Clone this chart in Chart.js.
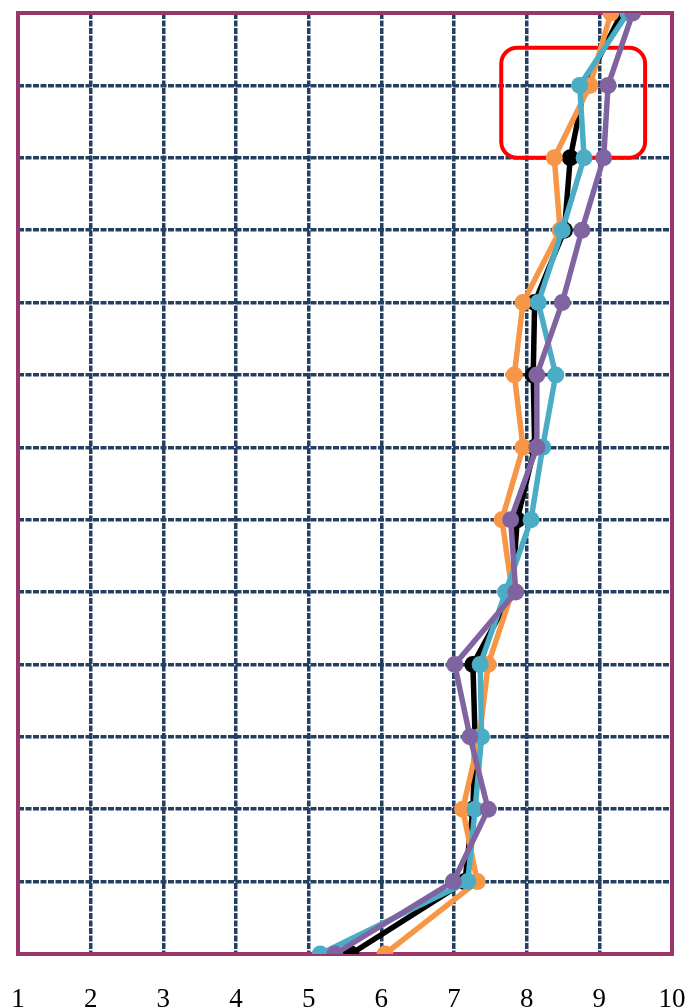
<!DOCTYPE html>
<html>
<head>
<meta charset="utf-8">
<script src="https://cdn.jsdelivr.net/npm/chart.js@4"></script>
<style>
  html, body { margin: 0; padding: 0; background: #fff; overflow: hidden; }
  canvas { display: block; }
</style>
</head>
<body>
<canvas id="myChart" width="691" height="1007"></canvas>
<script>
// depth levels (rows, top = 0)
const depths = [0, 1, 2, 3, 4, 5, 6, 7, 8, 9, 10, 11, 12, 13];
const xTicks = [1, 2, 3, 4, 5, 6, 7, 8, 9, 10];

const blackSeries  = [9.31, 8.80, 8.60, 8.52, 8.11, 8.09, 8.11, 7.87, 7.80, 7.26, 7.29, 7.26, 7.15, 5.58];
const orangeSeries = [9.16, 8.87, 8.38, 8.46, 7.95, 7.83, 7.95, 7.66, 7.80, 7.47, 7.35, 7.12, 7.32, 6.05];
const tealSeries   = [9.39, 8.73, 8.79, 8.49, 8.16, 8.40, 8.22, 8.06, 7.71, 7.36, 7.38, 7.29, 7.19, 5.16];
const purpleSeries = [9.46, 9.12, 9.06, 8.76, 8.49, 8.14, 8.14, 7.78, 7.85, 7.01, 7.22, 7.47, 6.99, 5.36];

// highlighted region (data units)
const boxX = [7.65, 9.63];
const boxY = [0.48, 2.0];

const toPoints = (vals) => vals.map((v, i) => ({ x: v, y: depths[i] }));

const makeSet = (vals, color, order) => ({
  data: toPoints(vals),
  borderColor: color,
  backgroundColor: color,
  borderWidth: 5.5,
  pointRadius: 8.5,
  pointHoverRadius: 8.5,
  pointBorderWidth: 0,
  showLine: true,
  order: order
});

// frame + red box, under the lines
const framePlugin = {
  id: 'frame',
  beforeDatasetsDraw(chart) {
    const { ctx, chartArea: a, scales } = chart;
    ctx.save();
    ctx.strokeStyle = '#9B3768';
    ctx.lineWidth = 4;
    ctx.strokeRect(a.left, a.top, a.right - a.left, a.bottom - a.top);

    const x1 = scales.x.getPixelForValue(boxX[0]);
    const x2 = scales.x.getPixelForValue(boxX[1]);
    const y1 = scales.y.getPixelForValue(boxY[0]);
    const y2 = scales.y.getPixelForValue(boxY[1]);
    ctx.strokeStyle = '#ff0000';
    ctx.lineWidth = 4;
    ctx.beginPath();
    ctx.roundRect(x1, y1, x2 - x1, y2 - y1, 16);
    ctx.stroke();
    ctx.restore();
  }
};

const ctx = document.getElementById('myChart');
new Chart(ctx, {
  type: 'scatter',
  data: {
    datasets: [
      makeSet(blackSeries, '#000000', 3),
      makeSet(orangeSeries, '#F79646', 2),
      makeSet(tealSeries, '#4BACC6', 1),
      makeSet(purpleSeries, '#8064A2', 0)
    ]
  },
  options: {
    responsive: false,
    animation: false,
    devicePixelRatio: 1,
    layout: { padding: { left: 18, right: 19, top: 13, bottom: 0 } },
    plugins: { legend: { display: false }, tooltip: { enabled: false } },
    scales: {
      x: {
        type: 'linear',
        min: 1,
        max: 10,
        afterBuildTicks: (s) => { s.ticks = xTicks.map(v => ({ value: v })); },
        afterFit: (s) => { s.height = 53; s.paddingLeft = 0; s.paddingRight = 0; },
        grid: { color: '#243F60', lineWidth: 3.5, drawTicks: false },
        border: { display: false, dash: [6, 1.5] },
        ticks: {
          color: '#000',
          padding: 32,
          font: { family: '"Liberation Serif", "DejaVu Serif", serif', size: 27, lineHeight: 1.0 }
        }
      },
      y: {
        type: 'linear',
        min: 0,
        max: 13,
        reverse: true,
        afterBuildTicks: (s) => { s.ticks = depths.map(v => ({ value: v })); },
        afterFit: (s) => { s.width = 0; },
        grid: { color: '#243F60', lineWidth: 3.5, drawTicks: false },
        border: { display: false, dash: [6, 1.5] },
        ticks: { display: false }
      }
    }
  },
  plugins: [framePlugin]
});
</script>
</body>
</html>
